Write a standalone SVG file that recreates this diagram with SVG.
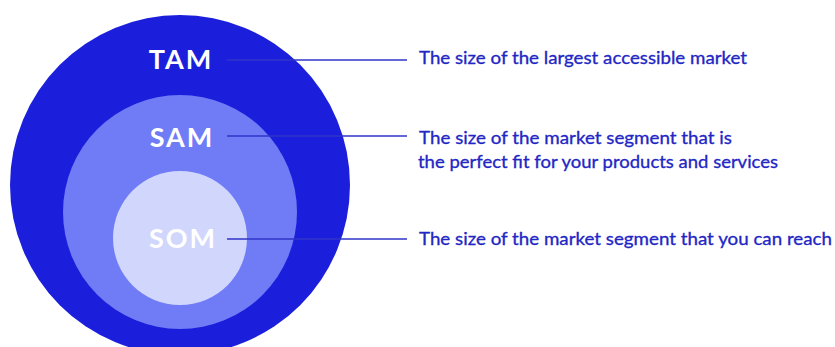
<svg xmlns="http://www.w3.org/2000/svg" width="835" height="347" viewBox="0 0 835 347">
  <style>
    .tier { font-family: "Lato", "Liberation Sans", sans-serif; font-weight: 700; font-size: 27px; fill: #ffffff; letter-spacing: 2px; text-anchor: middle; }
    .desc { font-family: "Lato", "Open Sans", sans-serif; font-size: 16.5px; fill: #2226c4; stroke: #2226c4; stroke-width: 0.3; }
    .lead { stroke: #3035c9; stroke-width: 1.6; fill: none; }
  </style>
  <rect width="835" height="347" fill="#ffffff"/>

  <!-- nested market circles, outermost first -->
  <g id="tam">
    <circle cx="180" cy="185" r="170" fill="#1b1fdc"/>
    <text class="tier" x="181" y="69">TAM</text>
  </g>
  <g id="sam">
    <circle cx="180" cy="212" r="117" fill="#6f7cf5"/>
    <text class="tier" x="182" y="147">SAM</text>
  </g>
  <g id="som">
    <circle cx="180" cy="238" r="67" fill="#d0d6fc"/>
    <text class="tier" x="183" y="248">SOM</text>
  </g>

  <!-- leader lines from each label to its description -->
  <g id="connectors">
    <line class="lead" x1="227" y1="60" x2="407" y2="60"/>
    <line class="lead" x1="227" y1="136" x2="407" y2="136"/>
    <line class="lead" x1="227" y1="239" x2="407" y2="239"/>
  </g>

  <g id="tam-desc">
    <text class="desc" x="419" y="64" textLength="328" lengthAdjust="spacingAndGlyphs">The size of the largest accessible market</text>
  </g>
  <g id="sam-desc">
    <text class="desc" x="419" y="144" textLength="313" lengthAdjust="spacingAndGlyphs">The size of the market segment that is</text>
    <text class="desc" x="418" y="168" textLength="360" lengthAdjust="spacingAndGlyphs">the perfect fit for your products and services</text>
  </g>
  <g id="som-desc">
    <text class="desc" x="419" y="245" textLength="413" lengthAdjust="spacingAndGlyphs">The size of the market segment that you can reach</text>
  </g>
</svg>
